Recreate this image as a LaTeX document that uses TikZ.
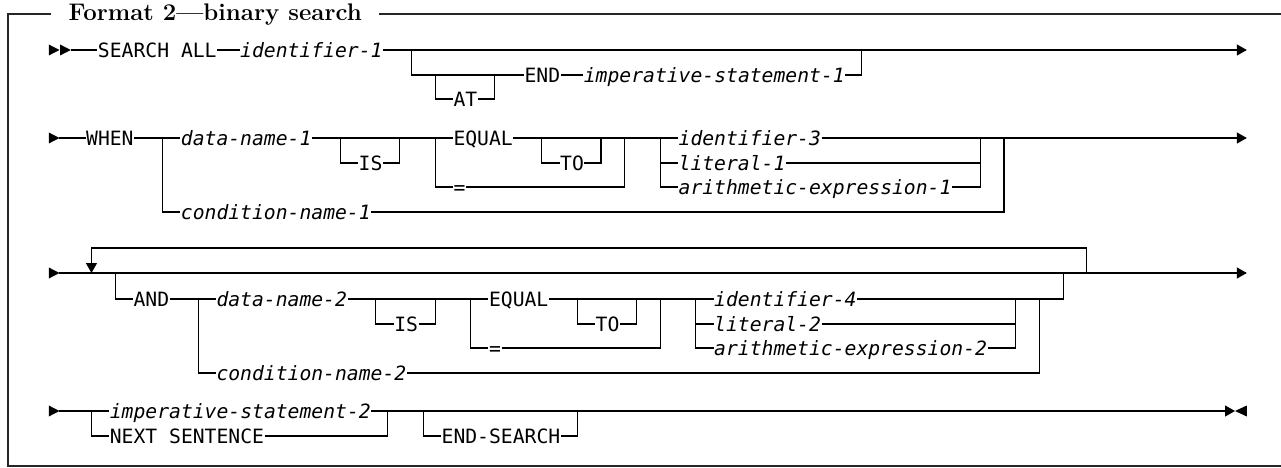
\documentclass[tikz,border=0pt]{standalone}
\usepackage{fontspec}
\usepackage{tikz}
\usetikzlibrary{arrows.meta}
\newfontfamily\synfont{DejaVu Sans Mono}
\newcommand\rtri[2]{\fill (#1,#2-5.5) -- ++(0.9,5.5) -- ++(-0.9,5.5) -- cycle;}

\begin{document}
\begin{tikzpicture}[x=11.85pt, y=-1pt, line width=1.2pt,
        >={Triangle[length=10pt,width=11pt]},
        kw/.style={anchor=west, inner sep=0pt, text height=15pt, text depth=0pt,
            font=\synfont\fontsize{19.7}{22}\selectfont},
        var/.style={kw, font=\synfont\itshape\fontsize{19.7}{22}\selectfont},
        frame/.style={black!85, line width=1.4pt}]
        \useasboundingbox (-4.2194,0) rectangle (103.8819,468);
        \node[anchor=base west, inner xsep=17pt, inner ysep=0pt,
            font=\bfseries\fontsize{24}{28}\selectfont] (title) at (0.08,21) {Format 2—binary search};
        \draw[frame] (title.west |- 0,14) -- (-3.544,14) -- (-3.544,466) -- (103.9,466);
        \draw[frame] (title.east |- 0,14) -- (103.9,14);

        % SEARCH ALL
        \rtri{-0.1}{50} \rtri{0.85}{50}
        \node[kw] (srch) at (4,50) {SEARCH ALL};
        \node[var] (id1) at (16,50) {identifier-1};
        \node[kw] (at) at (34,99) {AT};
        \node[kw] (end1) at (40,75) {END};
        \node[var] (imp1) at (45,75) {imperative-statement-1};
        \draw (1.75,50) -- (srch.west);
        \draw (srch.east) -- (id1.west);
        \draw[->] (id1.east) -- (101,50);
        \draw (30.5,50) -- (30.5,75) -- (end1.west);
        \draw (32.5,75) -- (32.5,99) -- (at.west);
        \draw (at.east) -- (37.5,99) -- (37.5,75);
        \draw (end1.east) -- (imp1.west);
        \draw (imp1.east) -- (68.5,75) -- (68.5,50);

        % WHEN
        \rtri{-0.1}{138}
        \node[kw] (when) at (3,138) {WHEN};
        \node[var] (dn1) at (11,138) {data-name-1};
        \node[kw] (is1) at (26,163) {IS};
        \node[kw] (eq1) at (34,138) {EQUAL};
        \node[kw] (to1) at (43,163) {TO};
        \node[kw] (sym1) at (34,187) {=};
        \node[var] (id3) at (53,138) {identifier-3};
        \node[var] (lit1) at (53,163) {literal-1};
        \node[var] (ae1) at (53,187) {arithmetic-expression-1};
        \node[var] (cn1) at (11,212) {condition-name-1};
        \draw (0.8,138) -- (when.west);
        \draw (when.east) -- (dn1.west);
        \draw (dn1.east) -- (eq1.west);
        \draw (eq1.east) -- (id3.west);
        \draw[->] (id3.east) -- (101,138);
        \draw (9.5,138) -- (9.5,212) -- (cn1.west);
        \draw (cn1.east) -- (80.5,212) -- (80.5,138);
        \draw (24.5,138) -- (24.5,163) -- (is1.west);
        \draw (is1.east) -- (29.5,163) -- (29.5,138);
        \draw (32.5,138) -- (32.5,187) -- (sym1.west);
        \draw (sym1.east) -- (48.5,187) -- (48.5,138);
        \draw (41.5,138) -- (41.5,163) -- (to1.west);
        \draw (to1.east) -- (46.5,163) -- (46.5,138);
        \draw (51.5,138) -- (51.5,187) -- (ae1.west);
        \draw (51.5,163) -- (lit1.west);
        \draw (ae1.east) -- (78.5,187) -- (78.5,138);
        \draw (lit1.east) -- (78.5,163);

        % AND (repeated)
        \rtri{-0.1}{273}
        \draw[->] (0.8,273) -- (101,273);
        \draw[->] (87.5,273) -- (87.5,248) -- (3.5,248) -- (3.5,273);
        \node[kw] (and) at (7,299) {AND};
        \node[var] (dn2) at (14,299) {data-name-2};
        \node[kw] (is2) at (29,324) {IS};
        \node[kw] (eq2) at (37,299) {EQUAL};
        \node[kw] (to2) at (46,324) {TO};
        \node[kw] (sym2) at (37,348) {=};
        \node[var] (id4) at (56,299) {identifier-4};
        \node[var] (lit2) at (56,324) {literal-2};
        \node[var] (ae2) at (56,348) {arithmetic-expression-2};
        \node[var] (cn2) at (14,373) {condition-name-2};
        \draw (5.5,273) -- (5.5,299) -- (and.west);
        \draw (and.east) -- (dn2.west);
        \draw (dn2.east) -- (eq2.west);
        \draw (eq2.east) -- (id4.west);
        \draw (id4.east) -- (85.5,299) -- (85.5,273);
        \draw (12.5,299) -- (12.5,373) -- (cn2.west);
        \draw (cn2.east) -- (83.5,373) -- (83.5,299);
        \draw (27.5,299) -- (27.5,324) -- (is2.west);
        \draw (is2.east) -- (32.5,324) -- (32.5,299);
        \draw (35.5,299) -- (35.5,348) -- (sym2.west);
        \draw (sym2.east) -- (51.5,348) -- (51.5,299);
        \draw (44.5,299) -- (44.5,324) -- (to2.west);
        \draw (to2.east) -- (49.5,324) -- (49.5,299);
        \draw (54.5,299) -- (54.5,348) -- (ae2.west);
        \draw (54.5,324) -- (lit2.west);
        \draw (ae2.east) -- (81.5,348) -- (81.5,299);
        \draw (lit2.east) -- (81.5,324);

        % end of statement
        \rtri{-0.1}{411}
        \node[var] (imp2) at (5,411) {imperative-statement-2};
        \node[kw] (nxt) at (5,436) {NEXT SENTENCE};
        \node[kw] (endsrch) at (33,436) {END-SEARCH};
        \draw (0.8,411) -- (imp2.west);
        \draw (3.5,411) -- (3.5,436) -- (nxt.west);
        \draw (nxt.east) -- (28.5,436) -- (28.5,411);
        \draw[->] (imp2.east) -- (100,411);
        \draw (31.5,411) -- (31.5,436) -- (endsrch.west);
        \draw (endsrch.east) -- (44.5,436) -- (44.5,411);
        \fill (101,405.5) -- (100,411) -- (101,416.5) -- cycle;
    \end{tikzpicture}
\end{document}
